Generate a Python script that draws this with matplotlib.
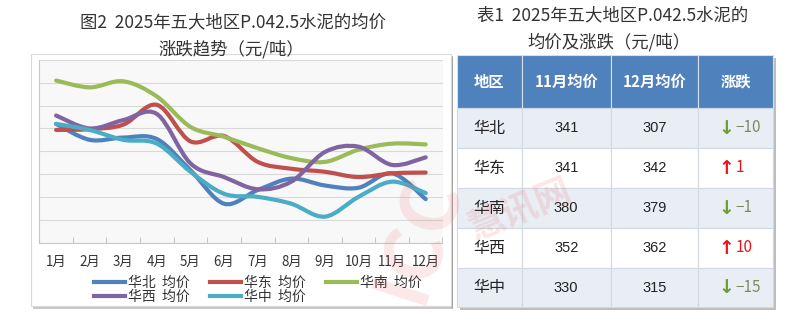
import numpy as np
import matplotlib
matplotlib.use("Agg")
import matplotlib.pyplot as plt
from matplotlib.path import Path
from matplotlib.patches import PathPatch, Rectangle
from matplotlib.lines import Line2D

plt.rcParams['font.family'] = ['Noto Sans CJK SC', 'DejaVu Sans']

# 月均价走势（元/吨）
months = ["1月", "2月", "3月", "4月", "5月", "6月", "7月", "8月", "9月", "10月", "11月", "12月"]
huabei = [406, 385, 388, 386, 345, 301, 319, 334, 325, 322, 341, 307]
huadong = [398, 399, 405, 431, 383, 390, 356, 347, 343, 336, 341, 342]
huanan = [463, 454, 462, 442, 402, 389, 374, 361, 356, 372, 380, 379]
huaxi = [417, 400, 411, 419, 354, 336, 320, 330, 369, 376, 352, 362]
huazhong = [406, 398, 385, 380, 343, 314, 310, 301, 284, 310, 330, 315]

series_names = ["华北  均价", "华东  均价", "华南  均价", "华西  均价", "华中  均价"]
series_colors = ["#4F81BD", "#C0504D", "#9BBB59", "#8064A2", "#4BACC6"]

# 表格数据
regions = ["华北", "华东", "华南", "华西", "华中"]
nov_price = [341, 341, 380, 352, 330]
dec_price = [307, 342, 379, 362, 315]
change = [-10, 1, -1, 10, -15]
headers = ["地区", "11月均价", "12月均价", "涨跌"]

W, H = 800, 323
fig = plt.figure(figsize=(W / 100, H / 100), dpi=100)

# 整张图的像素坐标底层
bg = fig.add_axes([0, 0, 1, 1])
bg.set_xlim(0, W)
bg.set_ylim(H, 0)
bg.axis("off")


def smooth_path(xs, ys):
    pts = np.column_stack([xs, ys]).astype(float)
    n = len(pts)
    verts = [pts[0]]
    codes = [Path.MOVETO]
    for i in range(n - 1):
        p0 = pts[max(i - 1, 0)]
        p1 = pts[i]
        p2 = pts[i + 1]
        p3 = pts[min(i + 2, n - 1)]
        verts += [p1 + (p2 - p0) / 6, p2 - (p3 - p1) / 6, p2]
        codes += [Path.CURVE4] * 3
    return Path(verts, codes)


# 图表外框和阴影
bg.add_patch(Rectangle((33, 57), 420, 252, facecolor="#C8C8C8", edgecolor="none", zorder=1))
bg.add_patch(Rectangle((31, 54), 420, 252, facecolor="white", edgecolor="#D9D9D9", lw=0.8, zorder=2))

fig.text(232.7 / W, 1 - 22.7 / H, "图2  2025年五大地区P.042.5水泥的均价", ha="center", va="center",
         fontsize=12.5, color="#333333")
fig.text(231 / W, 1 - 49.3 / H, "涨跌趋势（元/吨）", ha="center", va="center",
         fontsize=12.5, color="#333333")

# 折线图区域
left, right, top, bottom = 39.3, 442.5, 60, 242.5
ax = fig.add_axes([left / W, 1 - bottom / H, (right - left) / W, (bottom - top) / H])
ax.set_facecolor("#F8F8F8")
ax.set_xlim(-0.5, 11.5)
ax.set_ylim(250, 490)
ax.set_yticks(np.arange(250, 491, 30))
ax.yaxis.grid(True, color="#D9D9D9", lw=0.8)
ax.set_axisbelow(True)
ax.tick_params(axis="y", length=0, labelleft=False)
ax.set_xticks(np.arange(-0.5, 12, 1))
ax.set_xticklabels([])
ax.tick_params(axis="x", which="major", direction="in", length=4, color="#C8C8C8")
ax.set_xticks(np.arange(12), minor=True)
ax.set_xticklabels(months, minor=True)
ax.tick_params(axis="x", which="minor", length=0, pad=9, labelsize=9.6, labelcolor="#333333")
for s in ["top", "right"]:
    ax.spines[s].set_visible(False)
ax.spines["left"].set_color("#C8C8C8")
ax.spines["bottom"].set_color("#C8C8C8")

x = np.arange(len(months))
all_series = [huabei, huadong, huanan, huaxi, huazhong]
handles = []
for vals, col, name in zip(all_series, series_colors, series_names):
    ax.add_patch(PathPatch(smooth_path(x, vals), fill=False, edgecolor=col, lw=3,
                           capstyle="round", joinstyle="round", zorder=3))
    handles.append(Line2D([], [], color=col, lw=3, label=name))

order = [0, 3, 1, 4, 2]
fig.legend([handles[i] for i in order], [series_names[i] for i in order],
           loc="center", bbox_to_anchor=(258 / W, 1 - 290 / H), ncol=3, frameon=False,
           fontsize=10, handlelength=2.2, handletextpad=0.25, columnspacing=1.45,
           labelspacing=0.05, borderpad=0, labelcolor="#333333")

# 右侧表格
fig.text(612.5 / W, 1 - 15 / H, "表1  2025年五大地区P.042.5水泥的", ha="center", va="center",
         fontsize=12.5, color="#333333")
fig.text(609 / W, 1 - 41.7 / H, "均价及涨跌（元/吨）", ha="center", va="center",
         fontsize=12.5, color="#333333")

col_x = [456.7, 521.7, 610.7, 698.3, 772.7]
row_y = [55, 108, 148, 188, 228, 268, 307]

bg.add_patch(Rectangle((col_x[0] + 3, row_y[0] + 3), col_x[-1] - col_x[0], row_y[-1] - row_y[0],
                       facecolor="#BDBDBD", edgecolor="none", zorder=1))
bg.plot([452, 452], [row_y[0] + 2, row_y[-1]], color="#9A9A9A", lw=1.2, zorder=1)

for j in range(4):
    bg.add_patch(Rectangle((col_x[j], row_y[0]), col_x[j + 1] - col_x[j], row_y[1] - row_y[0],
                           facecolor="#4F81BD", edgecolor="#D6E0EE", lw=0.8, zorder=2))
    bg.text((col_x[j] + col_x[j + 1]) / 2, (row_y[0] + row_y[1]) / 2, headers[j], ha="center",
            va="center", fontsize=11, fontweight="bold", color="white", zorder=3)

for i in range(len(regions)):
    fc = "#E9EEF5" if i % 2 == 0 else "white"
    y0, y1 = row_y[i + 1], row_y[i + 2]
    yc = (y0 + y1) / 2
    for j in range(4):
        bg.add_patch(Rectangle((col_x[j], y0), col_x[j + 1] - col_x[j], y1 - y0,
                               facecolor=fc, edgecolor="#D3D9E2", lw=0.8, zorder=2))
    bg.text((col_x[0] + col_x[1]) / 2, yc, regions[i], ha="center", va="center",
            fontsize=11.5, color="#222222", zorder=3)
    bg.text((col_x[1] + col_x[2]) / 2, yc, str(nov_price[i]), ha="center", va="center",
            fontsize=10.5, color="#222222", family="Liberation Sans", zorder=3)
    bg.text((col_x[2] + col_x[3]) / 2, yc, str(dec_price[i]), ha="center", va="center",
            fontsize=10.5, color="#222222", family="Liberation Sans", zorder=3)
    cx = (col_x[3] + col_x[4]) / 2
    if change[i] < 0:
        arrow, arrow_col, num_col, num = "↓", "#6E9A2E", "#7D8B63", "−" + str(-change[i])
    else:
        arrow, arrow_col, num_col, num = "↑", "#E8141B", "#E8141B", str(change[i])
    bg.text(cx - 1, yc, arrow, ha="right", va="center", fontsize=13.5, fontweight="bold",
            color=arrow_col, family="DejaVu Sans", zorder=3)
    bg.text(cx, yc, num, ha="left", va="center", fontsize=11, color=num_col, zorder=3)

# 水印
fig.text(418 / W, 1 - 238 / H, "ICC", ha="center", va="center", fontsize=56, fontweight="bold",
         color="#E84040", alpha=0.12, rotation=72, zorder=10)
fig.text(520 / W, 1 - 210 / H, "慧讯网", ha="center", va="center", fontsize=26, fontweight="bold",
         color="#E84040", alpha=0.13, rotation=22, zorder=10)

fig.savefig("out.png", dpi=100)
